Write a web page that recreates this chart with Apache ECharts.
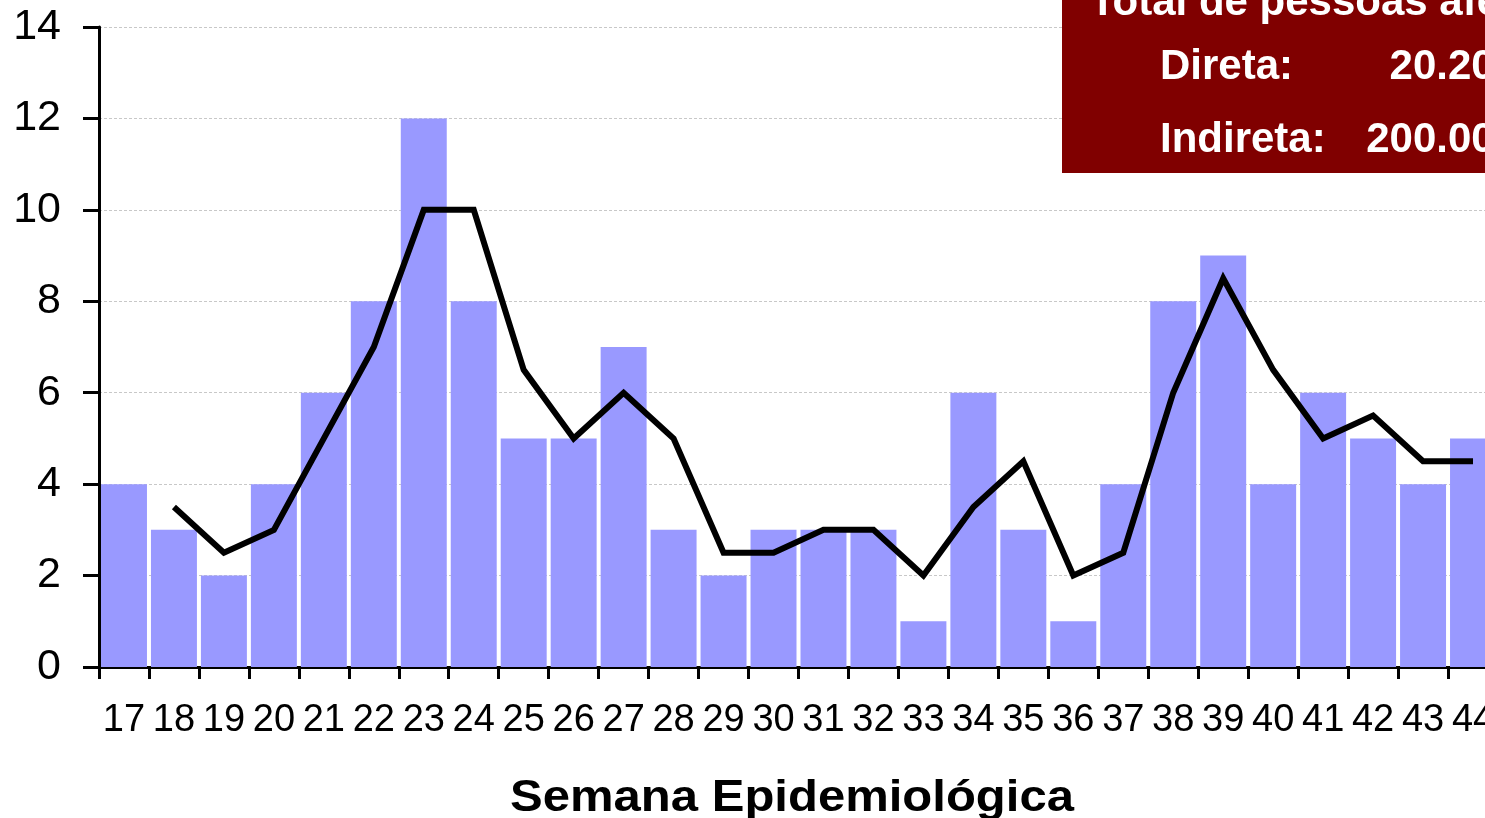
<!DOCTYPE html>
<html>
<head>
<meta charset="utf-8">
<script src="https://cdn.jsdelivr.net/npm/echarts@6/dist/echarts.min.js"></script>
<style>
html,body{margin:0;padding:0;background:#fff;}
#chart{width:1485px;height:818px;}
</style>
</head>
<body>
<div id="chart"></div>
<script>
const weeks = ['17','18','19','20','21','22','23','24','25','26','27','28','29','30','31','32','33','34','35','36','37','38','39','40','41','42','43','44'];
const cases = [4,3,2,4,6,8,12,8,5,5,7,3,2,3,3,3,1,6,3,1,4,8,9,4,6,5,4,5];
const movingAvg = [null,3.5,2.5,3,5,7,10,10,6.5,5,6,5,2.5,2.5,3,3,2,3.5,4.5,2,2.5,6,8.5,6.5,5,5.5,4.5,4.5];
const yTicks = {min:0, max:14, interval:2};
const axisTitle = 'Semana Epidemiológica';
const boxTitle = 'Total de pessoas afetadas:';
const boxRows = [['Direta:', '20.200'], ['Indireta:', '200.000']];

const chart = echarts.init(document.getElementById('chart'), null, {renderer:'canvas'});
const font = '"Liberation Sans", Arial, sans-serif';
chart.setOption({
  animation:false,
  backgroundColor:'#ffffff',
  grid:{left:99, top:27, width:1399, height:640, containLabel:false, outerBoundsMode:'none'},
  xAxis:{
    type:'category', data:weeks, boundaryGap:true,
    axisLine:{lineStyle:{color:'#000', width:3}},
    axisTick:{show:true, alignWithLabel:false, length:12, lineStyle:{color:'#000', width:3}},
    axisLabel:{color:'#000', fontSize:38, fontFamily:font, margin:35, interval:0, hideOverlap:false},
    splitLine:{show:false}
  },
  yAxis:{
    type:'value', min:yTicks.min, max:yTicks.max, interval:yTicks.interval,
    axisLine:{show:true, lineStyle:{color:'#000', width:3}},
    axisTick:{show:true, length:16, lineStyle:{color:'#000', width:3}},
    axisLabel:{color:'#000', fontSize:43, fontFamily:font, margin:38},
    splitLine:{show:true, lineStyle:{color:'#c8c8c8', width:1, type:[3,2]}}
  },
  series:[
    {type:'bar', data:cases, barCategoryGap:'8%', itemStyle:{color:'#9999ff'}, z:2},
    {type:'line', data:movingAvg, symbol:'none', connectNulls:false,
     lineStyle:{color:'#000', width:6, join:'miter'}, z:3}
  ],
  graphic:[
    {type:'rect', shape:{x:1062, y:-10, width:460, height:183}, style:{fill:'#800000'}, z:10},
    {type:'text', x:1090, y:3, z:11, style:{text:boxTitle, fill:'#fff', font:'bold 42px '+font, textAlign:'left', textVerticalAlign:'middle'}},
    {type:'text', x:1160, y:67, z:11, style:{text:boxRows[0][0], fill:'#fff', font:'bold 42px '+font, textAlign:'left', textVerticalAlign:'middle'}},
    {type:'text', x:1518, y:67, z:11, style:{text:boxRows[0][1], fill:'#fff', font:'bold 42px '+font, textAlign:'right', textVerticalAlign:'middle'}},
    {type:'text', x:1160, y:140, z:11, style:{text:boxRows[1][0], fill:'#fff', font:'bold 42px '+font, textAlign:'left', textVerticalAlign:'middle'}},
    {type:'text', x:1518, y:140, z:11, style:{text:boxRows[1][1], fill:'#fff', font:'bold 42px '+font, textAlign:'right', textVerticalAlign:'middle'}},
    {type:'text', x:792, y:799, scaleX:1.14, scaleY:1.04, z:11, style:{text:axisTitle, fill:'#000', font:'bold 43px '+font, textAlign:'center', textVerticalAlign:'middle'}}
  ]
});
</script>
</body>
</html>
